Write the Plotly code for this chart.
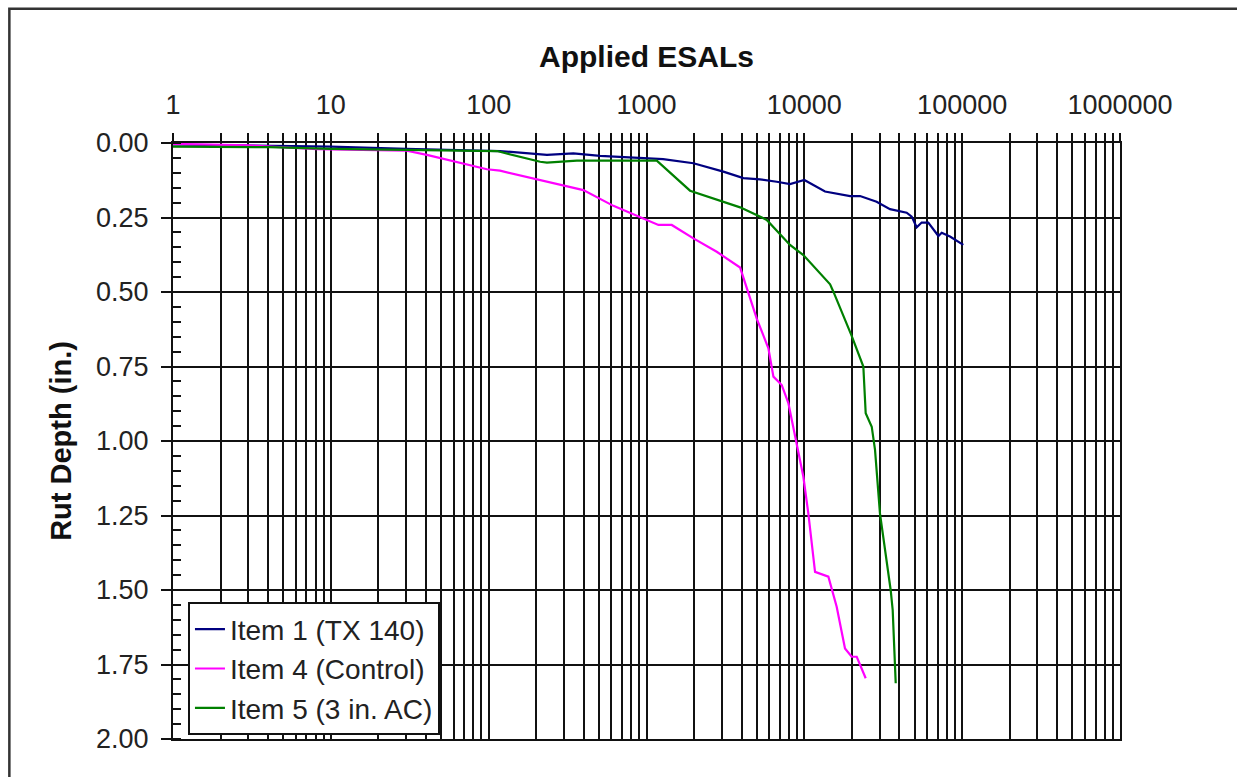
import plotly.graph_objects as go

# ---- data ----
esal_item1 = [1, 10, 30, 100, 118, 234, 344, 508, 1000, 1274, 1983, 3068, 4108, 5240, 6686,
              8117, 10000, 13520, 19500, 22550, 28700, 34900, 44500, 47900, 51500, 55400,
              61000, 70700, 74200, 83700, 101700]
rut_item1 = [0.005, 0.012, 0.02, 0.025, 0.027, 0.040, 0.035, 0.043, 0.051, 0.054, 0.068, 0.096,
             0.118, 0.122, 0.130, 0.138, 0.124, 0.163, 0.178, 0.178, 0.197, 0.222, 0.234, 0.247,
             0.283, 0.267, 0.267, 0.312, 0.301, 0.314, 0.342]

esal_item4 = [1, 3, 8.2, 30.3, 40.6, 49.3, 97.4, 118, 222, 398, 617, 868, 1190, 1445, 1983, 2786,
              3918, 5000, 5920, 6370, 7190, 7920, 8950, 9860, 10600, 11690, 14200, 16030, 18100,
              19950, 21480, 24480]
rut_item4 = [0.003, 0.008, 0.021, 0.026, 0.04, 0.051, 0.088, 0.093, 0.128, 0.158, 0.211, 0.245,
             0.275, 0.275, 0.32, 0.365, 0.418, 0.59, 0.689, 0.784, 0.812, 0.873, 1.008, 1.12,
             1.243, 1.439, 1.455, 1.556, 1.696, 1.724, 1.724, 1.796]

esal_item5 = [1, 4.1, 10, 113, 212, 234, 362, 1162, 1888, 3918, 5780, 8117, 9860, 14560, 15280,
              19950, 23650, 24480, 26730, 28050, 30140, 35240, 36290, 37930]
rut_item5 = [0.012, 0.014, 0.02, 0.027, 0.063, 0.066, 0.059, 0.059, 0.16, 0.216, 0.258, 0.342,
             0.376, 0.474, 0.499, 0.647, 0.75, 0.907, 0.952, 1.03, 1.243, 1.5, 1.567, 1.813]

series_names = ["Item 1 (TX 140)", "Item 4 (Control)", "Item 5 (3 in. AC)"]
series_colors = ["#000080", "#FF00FF", "#008000"]

decades = [1, 10, 100, 1000, 10000, 100000, 1000000]
decade_labels = ["1", "10", "100", "1000", "10000", "100000", "1000000"]
y_ticks = [0, 0.25, 0.5, 0.75, 1.0, 1.25, 1.5, 1.75, 2.0]

# x tick positions: every digit of every decade (gridlines), labels only on decades
x_tickvals, x_ticktext = [], []
for d, lab in zip(decades[:-1], decade_labels[:-1]):
    for k in range(1, 10):
        x_tickvals.append(d * k)
        x_ticktext.append(lab if k == 1 else "")
x_tickvals.append(decades[-1])
x_ticktext.append(decade_labels[-1])

FONT = "Liberation Sans, Arial, sans-serif"

fig = go.Figure()
for xs, ys, name, col in zip([esal_item1, esal_item4, esal_item5],
                             [rut_item1, rut_item4, rut_item5],
                             series_names, series_colors):
    fig.add_trace(go.Scatter(x=xs, y=ys, mode="lines", name=name,
                             line=dict(color=col, width=2.2)))

fig.update_layout(
    width=1237, height=777,
    margin=dict(l=173, r=117, t=143, b=38),
    paper_bgcolor="white", plot_bgcolor="white",
    font=dict(family=FONT, color="#111", size=26),
    showlegend=True,
    legend=dict(x=0.0158, y=0.006, xanchor="left", yanchor="bottom",
                bgcolor="white", bordercolor="#111", borderwidth=2,
                font=dict(family=FONT, size=28, color="#222"),
                tracegroupgap=0, itemwidth=30),
    xaxis=dict(
        type="log", range=[0, 6], side="top",
        tickmode="array", tickvals=x_tickvals, ticktext=x_ticktext,
        ticks="outside", ticklen=8, tickwidth=2, tickcolor="#111",
        ticklabelstandoff=8,
        showgrid=True, gridcolor="#111", gridwidth=2,
        showline=True, linecolor="#111", linewidth=2, mirror=True,
        zeroline=False,
        tickfont=dict(family=FONT, size=27, color="#222"),
        title=dict(text="<b>Applied ESALs</b>", standoff=14,
                   font=dict(family=FONT, size=30, color="#111")),
    ),
    yaxis=dict(
        range=[2, 0], tickmode="array", tickvals=y_ticks,
        ticktext=[f"{v:.2f}" for v in y_ticks],
        ticks="outside", ticklen=10, tickwidth=2, tickcolor="#111",
        ticklabelstandoff=7,
        showgrid=True, gridcolor="#111", gridwidth=2,
        showline=True, linecolor="#111", linewidth=2, mirror=True,
        zeroline=False,
        minor=dict(dtick=0.05, ticks="inside", ticklen=8, tickwidth=2,
                   tickcolor="#111", showgrid=False),
        tickfont=dict(family=FONT, size=27, color="#222"),
        title=dict(text="<b>Rut Depth (in.)</b>", standoff=16,
                   font=dict(family=FONT, size=29, color="#111")),
    ),
)

# outer frame of the figure (top and left edges visible)
fig.add_shape(type="rect", xref="paper", yref="paper",
              x0=-0.1728, x1=1.2, y0=-0.2, y1=1.2253,
              line=dict(color="#333", width=2.5), fillcolor="rgba(0,0,0,0)",
              layer="below")

fig.write_html("out.html", config={"displayModeBar": False},
               post_script="document.body.style.margin='0px';")
